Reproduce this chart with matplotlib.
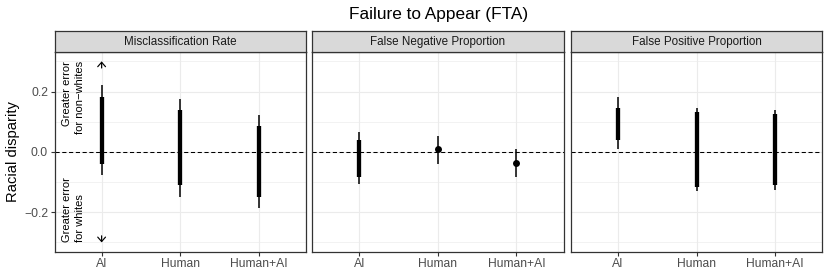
import numpy as np
import matplotlib
matplotlib.use('Agg')
import matplotlib.pyplot as plt

plt.rcParams['font.family'] = ['Liberation Sans', 'DejaVu Sans']

title = 'Failure to Appear (FTA)'
ylabel = 'Racial disparity'
panels = ['Misclassification Rate', 'False Negative Proportion', 'False Positive Proportion']
groups = ['AI', 'Human', 'Human+AI']
nan = np.nan
outer_lo = [[-0.075, -0.148, -0.186], [-0.107, -0.041, -0.084], [0.008, -0.131, -0.127]]
outer_hi = [[0.222, 0.176, 0.123], [0.066, 0.052, 0.008], [0.181, 0.147, 0.140]]
inner_lo = [[-0.039, -0.110, -0.150], [-0.082, nan, nan], [0.041, -0.116, -0.111]]
inner_hi = [[0.181, 0.140, 0.087], [0.038, nan, nan], [0.147, 0.132, 0.125]]
points = [[nan, nan, nan], [nan, 0.008, -0.038], [nan, nan, nan]]
yticks = [-0.2, 0.0, 0.2]
yticks_minor = [-0.3, -0.1, 0.1, 0.3]
ytick_labels = ['\u22120.2', '0.0', '0.2']
note_up = 'Greater error\nfor non\u2212whites'
note_down = 'Greater error\nfor whites'

W, H = 830, 277
fig = plt.figure(figsize=(W / 100, H / 100), dpi=100)

lefts = [54.5, 312.3, 571.0]
pw = 251.3
ptop, pbot = 52.3, 251.5
stop = 30.7
border = '#333333'

for i, name in enumerate(panels):
    ax = fig.add_axes([lefts[i] / W, (H - pbot) / H, pw / W, (pbot - ptop) / H])
    ax.set_xlim(0.4, 3.6)
    ax.set_ylim(-0.33, 0.33)
    x = np.arange(1, len(groups) + 1)
    ax.set_xticks(x)
    ax.set_xticklabels(groups)
    ax.set_yticks(yticks)
    ax.set_yticks(yticks_minor, minor=True)
    ax.grid(True, which='major', color='#EBEBEB', lw=0.8, zorder=0)
    ax.grid(True, which='minor', axis='y', color='#EBEBEB', lw=0.45, zorder=0)
    ax.set_axisbelow(True)
    for s in ax.spines.values():
        s.set_color(border)
        s.set_linewidth(0.9)
    ax.tick_params(which='major', length=2.6, width=0.8, color=border,
                   labelcolor='#4D4D4D', labelsize=8.7, pad=2.0)
    ax.tick_params(which='minor', length=0)
    if i == 0:
        ax.set_yticklabels(ytick_labels)
    else:
        ax.tick_params(axis='y', which='major', left=False, labelleft=False)

    ax.axhline(0, color='black', lw=0.75, dashes=(4, 2.5), zorder=2)
    ax.vlines(x, outer_lo[i], outer_hi[i], colors='black', lw=1.1, capstyle='butt', zorder=3)
    ax.vlines(x, inner_lo[i], inner_hi[i], colors='black', lw=3.1, capstyle='butt', zorder=4)
    ax.plot(x, points[i], 'o', color='black', ms=5.0, mew=0, zorder=5)

    if i == 0:
        ax.text(0.645, 0.3, note_up, rotation=90, ha='center', va='top',
                multialignment='right', fontsize=8.0, linespacing=1.4, zorder=6)
        ax.text(0.645, -0.3, note_down, rotation=90, ha='center', va='bottom',
                multialignment='left', fontsize=8.0, linespacing=1.4, zorder=6)
        ap = dict(arrowstyle='->,head_length=0.32,head_width=0.28', lw=0.85,
                  color='black', shrinkA=0, shrinkB=0)
        ax.annotate('', xy=(1, 0.3), xytext=(1, 0.278), arrowprops=ap, zorder=6)
        ax.annotate('', xy=(1, -0.3), xytext=(1, -0.278), arrowprops=ap, zorder=6)

    sax = fig.add_axes([lefts[i] / W, (H - ptop) / H, pw / W, (ptop - stop) / H])
    sax.set_facecolor('#D9D9D9')
    sax.set_xticks([])
    sax.set_yticks([])
    for s in sax.spines.values():
        s.set_color(border)
        s.set_linewidth(0.9)
    sax.text(0.5, 0.47, name, transform=sax.transAxes, ha='center', va='center',
             fontsize=8.4, color='#1A1A1A')

fig.text(13 / W, (H - (ptop + pbot) / 2) / H, ylabel, rotation=90, ha='center',
         va='center', fontsize=10.6)
fig.text(438.4 / W, (H - 19) / H, title, ha='center', va='baseline', fontsize=12.4)

fig.savefig('out.png', dpi=100)
